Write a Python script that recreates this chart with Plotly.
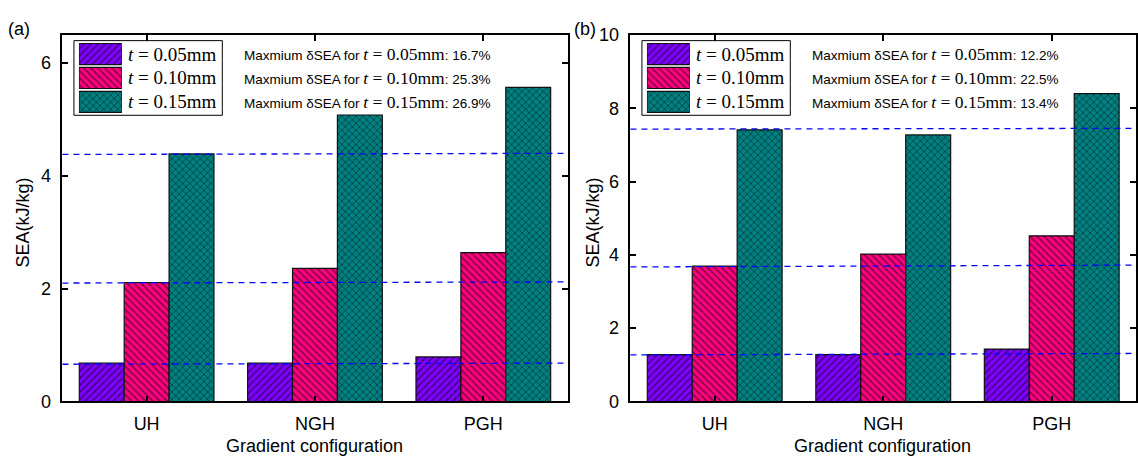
import plotly.graph_objects as go

W, H = 1138, 467

# ---- data -------------------------------------------------------------
configs = ["UH", "NGH", "PGH"]
thickness = ["0.05", "0.10", "0.15"]

# SEA (kJ/kg) for panel (a)
sea_a_005 = [0.68, 0.68, 0.79]
sea_a_010 = [2.11, 2.36, 2.64]
sea_a_015 = [4.39, 5.08, 5.57]

# SEA (kJ/kg) for panel (b)
sea_b_005 = [1.28, 1.28, 1.43]
sea_b_010 = [3.69, 4.02, 4.52]
sea_b_015 = [7.41, 7.27, 8.40]

# dashed reference levels (left end, right end)
ref_a = [(0.66, 0.68), (2.10, 2.12), (4.38, 4.40)]
ref_b = [(1.27, 1.31), (3.67, 3.72), (7.43, 7.45)]

# maximum SEA increase per thickness
max_delta_a = ["16.7%", "25.3%", "26.9%"]
max_delta_b = ["12.2%", "22.5%", "13.4%"]

y_ticks_a = [0, 2, 4, 6]
y_ticks_b = [0, 2, 4, 6, 8, 10]

# ---- styling ----------------------------------------------------------
fills = ["#8000FF", "#FF0080", "#008080"]
hatches = ["/", "\\", "x"]
SANS = "Liberation Sans, Arial, sans-serif"
SERIF = "Liberation Serif, Times New Roman, serif"


def px_x(v):
    return v / W


def px_y(v):
    return 1 - v / H


def pattern(i):
    return dict(shape=hatches[i], fgcolor="black", bgcolor=fills[i],
                fillmode="overlay", size=5, solidity=0.3)


fig = go.Figure()

panels = [
    dict(series=[sea_a_005, sea_a_010, sea_a_015], xa="x", ya="y",
         xl="x3", yl="y3", refs=ref_a, deltas=max_delta_a, dx=0.0),
    dict(series=[sea_b_005, sea_b_010, sea_b_015], xa="x2", ya="y2",
         xl="x4", yl="y4", refs=ref_b, deltas=max_delta_b, dx=568.5),
]

for p in panels:
    for i, vals in enumerate(p["series"]):
        fig.add_trace(go.Bar(
            x=configs, y=vals, xaxis=p["xa"], yaxis=p["ya"],
            marker=dict(color=fills[i], pattern=pattern(i),
                        line=dict(color="#111111", width=1.2)),
            showlegend=False, hoverinfo="skip"))
        # legend swatch drawn as a horizontal bar in its own small axes
        fig.add_trace(go.Bar(
            x=[1], y=[i], base=0, orientation="h", width=[0.88], offset=-0.44,
            xaxis=p["xl"], yaxis=p["yl"],
            marker=dict(color=fills[i], pattern=pattern(i),
                        line=dict(color="#111111", width=1.2)),
            showlegend=False, hoverinfo="skip"))

axis_common = dict(showline=True, linecolor="black", linewidth=1.8, mirror="ticks",
                   ticks="inside", ticklen=6, tickwidth=1.5, tickcolor="black",
                   showgrid=False, zeroline=False,
                   tickfont=dict(family=SANS, size=18, color="black"))

layout = dict(
    width=W, height=H, margin=dict(l=0, r=0, t=0, b=0),
    paper_bgcolor="white", plot_bgcolor="white",
    barmode="group", bargap=0.2, bargroupgap=0,
    xaxis=dict(domain=[px_x(62.5), px_x(568)], anchor="y", type="category",
               categoryorder="array", categoryarray=configs, range=[-0.5, 2.5],
               ticklabelstandoff=5, **axis_common),
    yaxis=dict(domain=[px_y(409), px_y(26)], anchor="x", range=[0, 6.5],
               tickvals=y_ticks_a, ticklabelstandoff=6, **axis_common),
    xaxis2=dict(domain=[px_x(631), px_x(1137)], anchor="y2", type="category",
                categoryorder="array", categoryarray=configs, range=[-0.5, 2.5],
                ticklabelstandoff=5, **axis_common),
    yaxis2=dict(domain=[px_y(409), px_y(26)], anchor="x2", range=[0, 10],
                tickvals=y_ticks_b, ticklabelstandoff=6, **axis_common),
)

shapes = []
annotations = []
for k, p in enumerate(panels):
    dx = p["dx"]
    ln = "3" if k == 0 else "4"
    # legend swatch axes
    layout["xaxis" + ln] = dict(domain=[px_x(79 + dx), px_x(122 + dx)], anchor="y" + ln,
                                range=[0, 1], visible=False, fixedrange=True)
    layout["yaxis" + ln] = dict(domain=[px_y(108.5), px_y(33.5)], anchor="x" + ln,
                                range=[2.5, -0.5], visible=False, fixedrange=True)
    # legend frame
    shapes.append(dict(type="rect", xref="paper", yref="paper",
                       x0=px_x(74 + dx), x1=px_x(222.5 + dx), y0=px_y(110), y1=px_y(32),
                       line=dict(color="black", width=1), layer="above"))
    # dashed reference levels
    for y0, y1 in p["refs"]:
        shapes.append(dict(type="line", xref=p["xa"] + " domain", yref=p["ya"],
                           x0=0, x1=1, y0=y0, y1=y1, layer="above",
                           line=dict(color="#0000FF", width=1.3, dash="6px,5px")))
    for i, t in enumerate(thickness):
        yc = px_y(46 + 25 * i)
        annotations.append(dict(
            xref="paper", yref="paper", x=px_x(126 + dx), y=yc,
            xanchor="left", yanchor="middle", showarrow=False,
            text=f"<i>t</i> = {t}mm",
            font=dict(family=SERIF, size=19, color="black")))
        annotations.append(dict(
            xref="paper", yref="paper", x=px_x(242 + dx), y=yc,
            xanchor="left", yanchor="middle", showarrow=False,
            text=(f"Maxmium δSEA for <span style=\"font-family:Liberation Serif;"
                  f"font-size:17.5px\"><i>t</i> = {t}mm</span>: {p['deltas'][i]}"),
            font=dict(family=SANS, size=13.5, color="black")))
    # axis titles
    annotations.append(dict(
        xref="paper", yref="paper", x=px_x(315 + dx), y=px_y(455),
        xanchor="center", yanchor="middle", showarrow=False,
        text="Gradient configuration", font=dict(family=SANS, size=18, color="black")))
    annotations.append(dict(
        xref="paper", yref="paper", x=px_x(24 + dx * 1.0035), y=px_y(222),
        xanchor="center", yanchor="middle", showarrow=False, textangle=-90,
        text="SEA(kJ/kg)", font=dict(family=SANS, size=18, color="black")))

annotations.append(dict(xref="paper", yref="paper", x=px_x(19), y=px_y(20),
                        xanchor="center", yanchor="middle", showarrow=False,
                        text="(a)", font=dict(family=SANS, size=18, color="black")))
annotations.append(dict(xref="paper", yref="paper", x=px_x(586), y=px_y(20),
                        xanchor="center", yanchor="middle", showarrow=False,
                        text="(b)", font=dict(family=SANS, size=18, color="black")))

layout["shapes"] = shapes
layout["annotations"] = annotations
fig.update_layout(**layout)

fig.write_html("out.html")
